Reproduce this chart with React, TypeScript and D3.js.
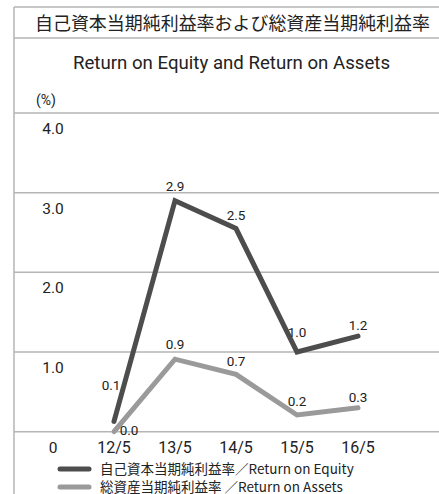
import React from "react";
import * as d3 from "d3";

const categories = ["12/5", "13/5", "14/5", "15/5", "16/5"];
const roeValues = [0.13, 2.9, 2.55, 1.0, 1.2];
const roeLabels = ["0.1", "2.9", "2.5", "1.0", "1.2"];
const roaValues = [0.0, 0.91, 0.72, 0.21, 0.3];
const roaLabels = ["0.0", "0.9", "0.7", "0.2", "0.3"];
const yTicks = [0, 1, 2, 3, 4];
const yTickLabels = ["0", "1.0", "2.0", "3.0", "4.0"];
const titleJa = "自己資本当期純利益率および総資産当期純利益率";
const titleEn = "Return on Equity and Return on Assets";
const unitLabel = "(%)";
const legendRoe = "自己資本当期純利益率／Return on Equity";
const legendRoa = "総資産当期純利益率 ／Return on Assets";

const W = 439;
const H = 494;
const FONT = "'Liberation Sans Narrow', Roboto, 'Noto Sans CJK JP', sans-serif";
const JFONT = "'Noto Sans CJK JP', sans-serif";

export default function App() {
  const x = d3.scalePoint<string>().domain(categories).range([114, 358]);
  const y = d3.scaleLinear().domain([0, 4]).range([431.7, 113]);
  const line = d3
    .line<number>()
    .x((_, i) => x(categories[i]) as number)
    .y((d) => y(d));
  const grid = "#b5b5b5";
  const roeColor = "#4d4d4d";
  const roaColor = "#9a9a9a";

  const roeOff = [
    [-3, -36],
    [0, -15],
    [0, -14],
    [0, -20],
    [0, -11],
  ];
  const roaOff = [
    [15, -2],
    [0, -15],
    [0, -13],
    [0, -14],
    [0, -11],
  ];

  return (
    <svg
      width={W}
      height={H}
      style={{ position: "absolute", left: 0, top: 0, background: "#fff" }}
    >
      <line x1={14} x2={W} y1={7} y2={7} stroke={grid} strokeWidth={1.5} />
      <line x1={14} x2={14} y1={7} y2={H} stroke={grid} strokeWidth={1.5} />
      <line x1={14} x2={W} y1={38} y2={38} stroke={grid} strokeWidth={1.5} />
      <text
        x={35}
        y={30}
        textLength={395}
        lengthAdjust="spacingAndGlyphs"
        fontFamily={JFONT}
        fontSize={18.5}
        fill="#222"
      >
        {titleJa}
      </text>
      <text
        x={73}
        y={68.5}
        textLength={317}
        lengthAdjust="spacingAndGlyphs"
        fontFamily="Roboto, sans-serif"
        fontSize={18}
        fill="#222"
      >
        {titleEn}
      </text>
      <text x={46} y={105} textAnchor="middle" fontFamily="Roboto, sans-serif" fontSize={14} fill="#222">
        {unitLabel}
      </text>
      {yTicks.map((t, i) => (
        <g key={t}>
          <line x1={14} x2={W} y1={y(t)} y2={y(t)} stroke={grid} strokeWidth={1.5} />
          <text
            x={53}
            y={y(t) + 21}
            textAnchor="middle"
            fontFamily="Roboto, sans-serif"
            fontSize={15.5}
            fill="#222"
          >
            {yTickLabels[i]}
          </text>
        </g>
      ))}
      {categories.map((c) => (
        <text
          key={c}
          x={x(c) as number}
          y={453}
          textAnchor="middle"
          fontFamily="Roboto, sans-serif"
          fontSize={16}
          fill="#222"
        >
          {c}
        </text>
      ))}
      <path d={line(roaValues) || ""} fill="none" stroke={roaColor} strokeWidth={5} strokeLinecap="round" strokeLinejoin="miter" />
      <path d={line(roeValues) || ""} fill="none" stroke={roeColor} strokeWidth={5} strokeLinecap="round" strokeLinejoin="miter" />
      {roeValues.map((v, i) => (
        <text
          key={"roe" + i}
          x={(x(categories[i]) as number) + roeOff[i][0]}
          y={y(v) + roeOff[i][1] + 5}
          textAnchor="middle"
          fontFamily={FONT}
          fontSize={13.5}
          fill="#222"
        >
          {roeLabels[i]}
        </text>
      ))}
      {roaValues.map((v, i) => (
        <text
          key={"roa" + i}
          x={(x(categories[i]) as number) + roaOff[i][0]}
          y={y(v) + roaOff[i][1] + 5}
          textAnchor="middle"
          fontFamily={FONT}
          fontSize={13.5}
          fill="#222"
        >
          {roaLabels[i]}
        </text>
      ))}
      <line x1={60} x2={89} y1={469} y2={469} stroke={roeColor} strokeWidth={5} strokeLinecap="round" />
      <text x={100} y={473.5} fontFamily={JFONT} fontSize={13.5} fill="#222">
        {legendRoe}
      </text>
      <line x1={60} x2={89} y1={487} y2={487} stroke={roaColor} strokeWidth={5} strokeLinecap="round" />
      <text x={100} y={491.5} fontFamily={JFONT} fontSize={13.5} fill="#222">
        {legendRoa}
      </text>
    </svg>
  );
}
